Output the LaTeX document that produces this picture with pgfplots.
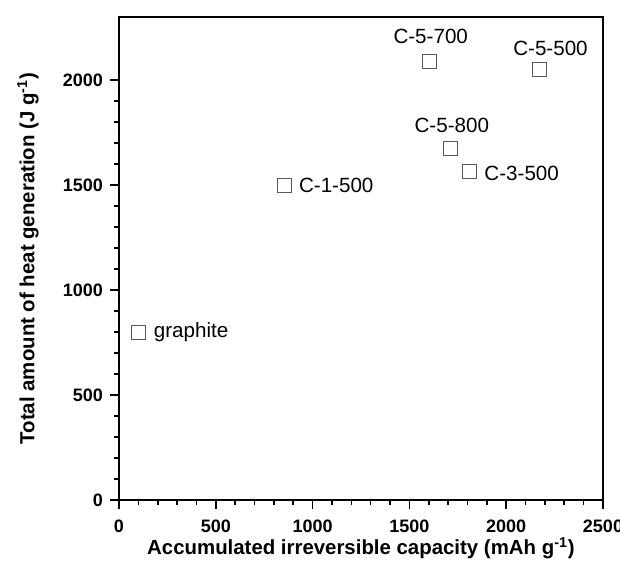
\documentclass[border=0pt]{standalone}
\usepackage{fontspec}
\setmainfont{Liberation Sans}
\usepackage{pgfplots}
\pgfplotsset{compat=1.18}

\pgfplotsset{
    heatpt/.style n args={3}{only marks, mark=square, mark size=3.5pt,
        mark options={draw=black!65, line width=0.5pt, fill=none},
        point meta=explicit symbolic,
        nodes near coords={\pgfplotspointmeta},
        every node near coord/.append style={anchor=#1, xshift=#2,
            yshift=#3, inner sep=0pt, text=black,
            font=\fontsize{10.3}{12}\selectfont}},
}

\begin{document}
\begin{tikzpicture}
\useasboundingbox (-59.5pt,-37.5pt) rectangle (250.5pt,250pt);
\begin{axis}[
    at={(0,0)}, anchor=south west,
    scale only axis,
    width=242pt, height=241.5pt,
    xmin=0, xmax=2500,
    ymin=0, ymax=2300,
    xtick={0,500,...,2500},
    ytick={0,500,...,2000},
    minor x tick num=4,
    minor y tick num=4,
    axis line style={line width=0.9pt},
    tick style={line width=0.8pt, black},
    major tick length=4.5pt,
    minor tick length=2.5pt,
    tick align=outside,
    xtick pos=bottom, ytick pos=left,
    tick label style={font=\fontsize{9}{10}\selectfont\bfseries},
    xticklabel style={yshift=-2pt},
    /pgf/number format/assume math mode=true,
    /pgf/number format/1000 sep={},
    label style={font=\fontsize{10.2}{12}\selectfont\bfseries},
    xlabel={Accumulated irreversible capacity (mAh g\textsuperscript{-1})},
    ylabel={Total amount of heat generation (J g\textsuperscript{-1})},
    xlabel style={at={(axis description cs:0.5,-0.0994)}, anchor=center},
    ylabel style={at={(axis description cs:-0.188,0.5)}, anchor=center},
]
    \addplot[heatpt={west}{7.5pt}{0pt}]   coordinates {(100,800) [graphite]};
    \addplot[heatpt={west}{7pt}{0pt}]     coordinates {(855,1497) [C-1-500]};
    \addplot[heatpt={south}{0.5pt}{8.8pt}] coordinates {(1605,2087) [C-5-700]};
    \addplot[heatpt={south}{5.5pt}{7pt}]  coordinates {(2172,2048) [C-5-500]};
    \addplot[heatpt={south}{0.5pt}{7.5pt}] coordinates {(1714,1676) [C-5-800]};
    \addplot[heatpt={west}{7pt}{-0.7pt}]  coordinates {(1813,1564) [C-3-500]};
\end{axis}
\end{tikzpicture}
\end{document}
